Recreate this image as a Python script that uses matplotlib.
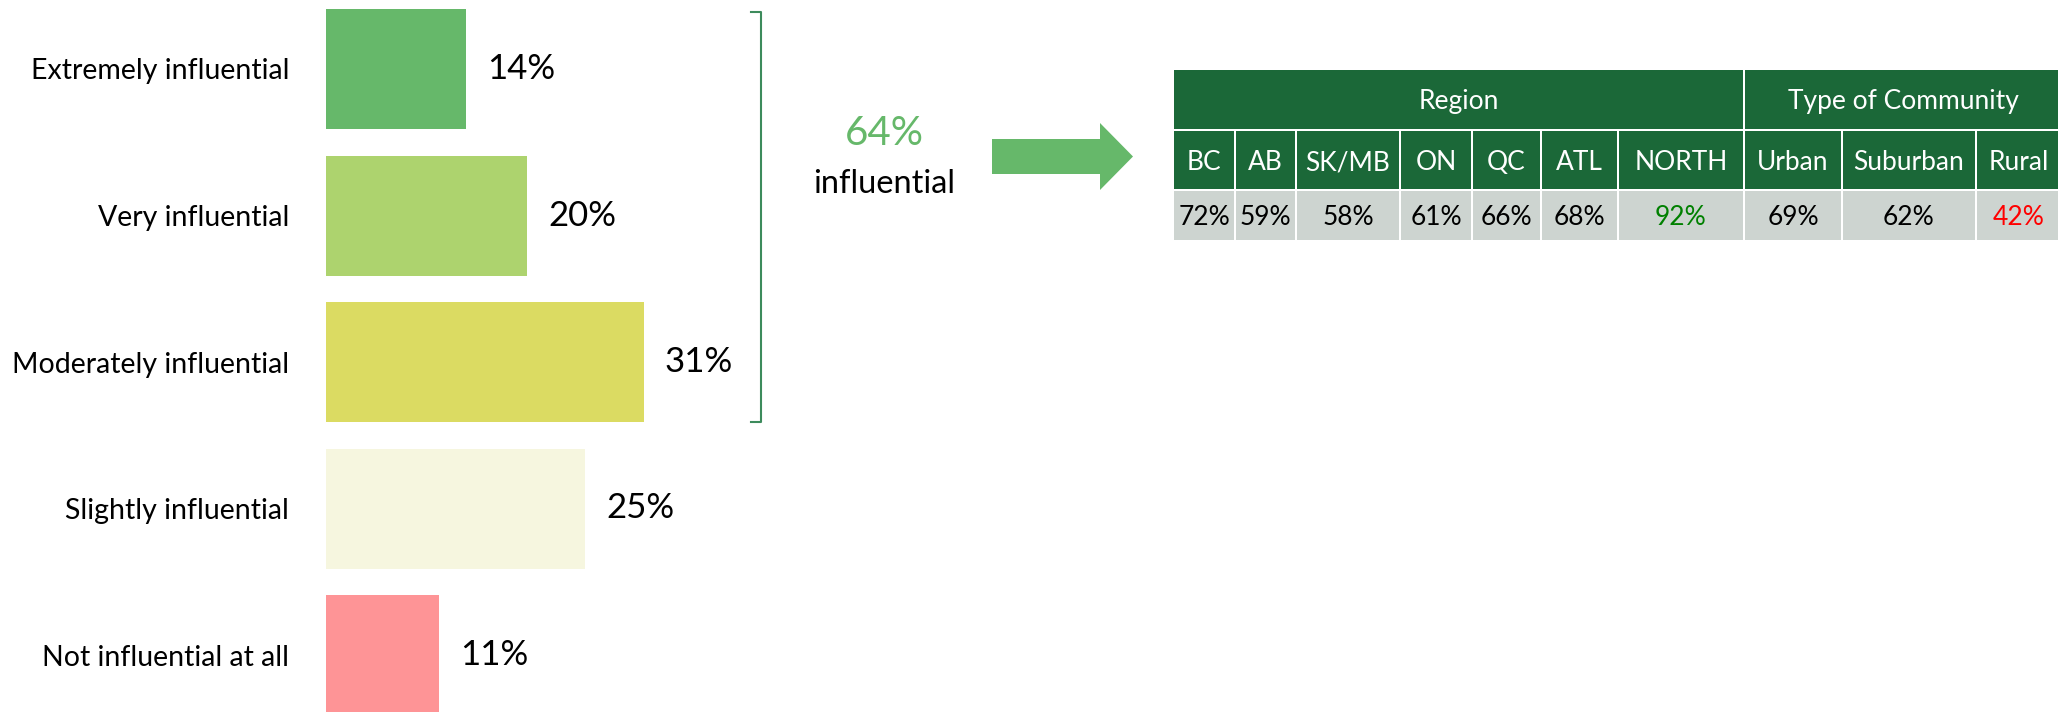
import matplotlib
matplotlib.use("Agg")
import matplotlib.pyplot as plt
from matplotlib.patches import Rectangle, Polygon
from matplotlib.transforms import blended_transform_factory

plt.rcParams['font.family'] = ['Lato', 'DejaVu Sans']

# ---------------- data ----------------
categories = ["Extremely influential", "Very influential", "Moderately influential",
              "Slightly influential", "Not influential at all"]
values = [13.7, 19.6, 31.0, 25.3, 11.0]
value_labels = ["14%", "20%", "31%", "25%", "11%"]
bar_colors = ["#66b86a", "#add36e", "#dbdb62", "#f6f6df", "#fe9496"]

summary_label = "influential"

table_groups = ["Region", "Type of Community"]
group_spans = [7, 3]
table_columns = ["BC", "AB", "SK/MB", "ON", "QC", "ATL", "NORTH", "Urban", "Suburban", "Rural"]
table_values = [72, 59, 58, 61, 66, 68, 92, 69, 62, 42]
table_value_colors = ["black"] * 6 + ["#008000"] + ["black", "black", "#ff0000"]

# ---------------- layout ----------------
W, H = 2058, 712
fig = plt.figure(figsize=(W / 100, H / 100), dpi=100)

px_per_unit = 10.25
bar_left = 326
bar_w_px = 400
pitch = 146.5
first_center = 69
ax = fig.add_axes([bar_left / W, 0, bar_w_px / W, 1])
ax.set_xlim(0, bar_w_px / px_per_unit)
ax.set_ylim((H - first_center) / pitch, -first_center / pitch)
bar_h = 120 / pitch
ypos = list(range(len(categories)))
ax.barh(ypos, values, height=bar_h, color=bar_colors, zorder=2)
for y, v, lab in zip(ypos, values, value_labels):
    ax.text(v + 21 / px_per_unit, y, lab, ha='left', va='center', fontsize=25, color='black')
ax.set_yticks(ypos)
ax.set_yticklabels(categories, fontsize=20.5)
ax.tick_params(axis='y', length=0, pad=26.5)
ax.set_xticks([])
for s in ax.spines.values():
    s.set_visible(False)
ax.patch.set_alpha(0)

# overlay in pixel coordinates
ov = fig.add_axes([0, 0, 1, 1])
ov.set_xlim(0, W)
ov.set_ylim(H, 0)
ov.axis('off')

# bracket spanning the top three bars
tr = blended_transform_factory(ov.transData, ax.transData)
btop = ypos[0] - bar_h / 2 + 0.02
bbot = ypos[2] + bar_h / 2
bx = 761
ax.plot([bx - 10, bx, bx, bx - 10], [btop, btop, bbot, bbot], transform=tr,
        color='#3d8b5c', lw=1.5, clip_on=False)

# summary text
ov.text(884, 145, f"{round(sum(values[:3]))}%", ha='center', va='baseline',
        fontsize=29, color='#66b86a')
ov.text(884, 193, summary_label, ha='center', va='baseline', fontsize=23.5, color='black')

# arrow
arrow = Polygon([(992, 139), (1100, 139), (1100, 123), (1133, 156.5),
                 (1100, 190), (1100, 174), (992, 174)], closed=True,
                facecolor='#66b86a', edgecolor='none')
ov.add_patch(arrow)

# table
col_edges = [1173, 1235, 1296, 1400, 1472, 1541, 1618, 1744, 1842, 1976, 2062]
row_edges = [70, 130, 190, 240]
g = 1.2
hdr_color = '#1b6838'
cell_grey = '#cdd4d0'

# group header row
ci = 0
for name, span in zip(table_groups, group_spans):
    x0, x1 = col_edges[ci], col_edges[ci + span]
    ov.add_patch(Rectangle((x0 + g, row_edges[0]), x1 - x0 - 2 * g,
                           row_edges[1] - row_edges[0] - g, facecolor=hdr_color, edgecolor='none'))
    ov.text((x0 + x1) / 2, (row_edges[0] + row_edges[1]) / 2 + 9, name,
            ha='center', va='baseline', fontsize=19, color='white')
    ci += span

for i, (col, val, vc) in enumerate(zip(table_columns, table_values, table_value_colors)):
    x0, x1 = col_edges[i], col_edges[i + 1]
    ov.add_patch(Rectangle((x0 + g, row_edges[1] + g), x1 - x0 - 2 * g,
                           row_edges[2] - row_edges[1] - 2 * g, facecolor=hdr_color, edgecolor='none'))
    ov.text((x0 + x1) / 2, (row_edges[1] + row_edges[2]) / 2 + 10, col,
            ha='center', va='baseline', fontsize=19, color='white')
    ov.add_patch(Rectangle((x0 + g, row_edges[2] + g), x1 - x0 - 2 * g,
                           row_edges[3] - row_edges[2] - g, facecolor=cell_grey, edgecolor='none'))
    ov.text((x0 + x1) / 2, (row_edges[2] + row_edges[3]) / 2 + 10, f"{val}%",
            ha='center', va='baseline', fontsize=19, color=vc)

fig.savefig("out.png", dpi=100)
